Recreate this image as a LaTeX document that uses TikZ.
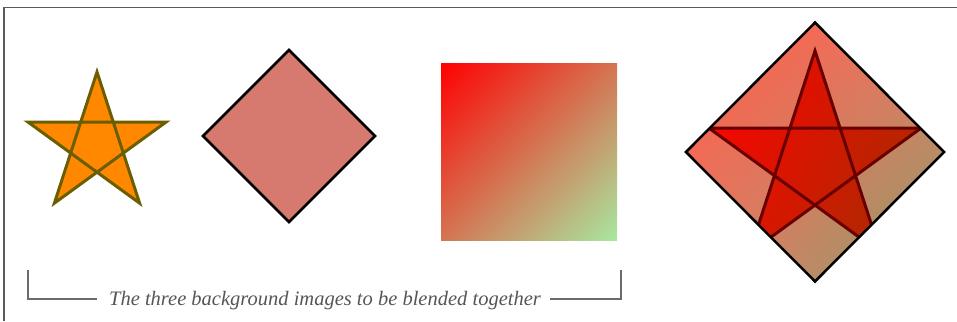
\documentclass[tikz,border=0pt]{standalone}
\usepackage{fontspec}
\setmainfont{Liberation Serif}
\usetikzlibrary{shadings}
\definecolor{starfill}{HTML}{FF8800}
\definecolor{staredge}{HTML}{6B5E00}
\definecolor{diafill}{HTML}{D67A70}
\definecolor{framegray}{HTML}{5A5A5A}
\definecolor{txtgray}{HTML}{555555}
\definecolor{sqA}{HTML}{FF0000}
\definecolor{sqB}{HTML}{D47453}
\definecolor{sqC}{HTML}{A8E8A0}
\definecolor{bgA}{HTML}{FF5A48}
\definecolor{bgB}{HTML}{E87A64}
\definecolor{bgC}{HTML}{84A068}
\definecolor{stA}{HTML}{FF0000}
\definecolor{stB}{HTML}{C02000}
\definecolor{stL}{HTML}{E81000}
\definecolor{stC}{HTML}{A03000}
\definecolor{stedge}{HTML}{680000}
\tikzset{
  framestyle/.style={draw=framegray,line width=1.5pt},
  bracketstyle/.style={draw=framegray!90,line width=2pt},
  diaedge/.style={draw=black,line width=2.5pt,line join=miter},
}
\begin{document}
\begin{tikzpicture}[x=1pt,y=-1pt]
\useasboundingbox (0,0) rectangle (957,321);
% frame
\draw[framestyle] (4,321) -- (4,7.5) -- (957,7.5);
% star
\begin{scope}[shift={(97,144.5)}]
  \draw[fill=starfill,draw=staredge,line width=3pt,line join=miter]
    (-90:72.5) -- (54:72.5) -- (198:72.5) -- (342:72.5) -- (126:72.5) -- cycle;
\end{scope}
% diamond
\draw[diaedge,fill=diafill] (203,136) -- (289,50) -- (375,136) -- (289,222) -- cycle;
% gradient square
\shade[upper left=sqA,upper right=sqB,lower left=sqB,lower right=sqC]
  (441,63) rectangle (617,240);
% blended result
\begin{scope}
  \clip (686,152) -- (815,22.5) -- (944,152) -- (815,281.5) -- cycle;
  \shade[upper left=bgA,upper right=bgB,lower left=bgB,lower right=bgC]
    (686,22.5) rectangle (944,281.5);
  \begin{scope}[shift={(815,162.5)}]
    \shade[upper left=stA,upper right=stB,lower left=stL,lower right=stC]
      (-90:111.6) -- (54:111.6) -- (198:111.6) -- (342:111.6) -- (126:111.6) -- cycle;
    \draw[draw=stedge,line width=3pt,line join=miter]
      (-90:111.6) -- (54:111.6) -- (198:111.6) -- (342:111.6) -- (126:111.6) -- cycle;
  \end{scope}
\end{scope}
\draw[diaedge] (686,152) -- (815,22.5) -- (944,152) -- (815,281.5) -- cycle;
% caption
\node[anchor=base,text=txtgray,inner sep=0pt,font=\fontsize{20.5}{24}\selectfont\itshape]
  (cap) at (325,305) {The three background images to be blended together};
\coordinate (lt) at (28,270);
\coordinate (lc) at (28,299);
\coordinate (le) at (97,299);
\coordinate (rs) at (550,299);
\coordinate (rc) at (621,299);
\coordinate (rt) at (621,270);
\draw[bracketstyle] (lt) -- (lc) -- (le);
\draw[bracketstyle] (rs) -- (rc) -- (rt);
\end{tikzpicture}
\end{document}
